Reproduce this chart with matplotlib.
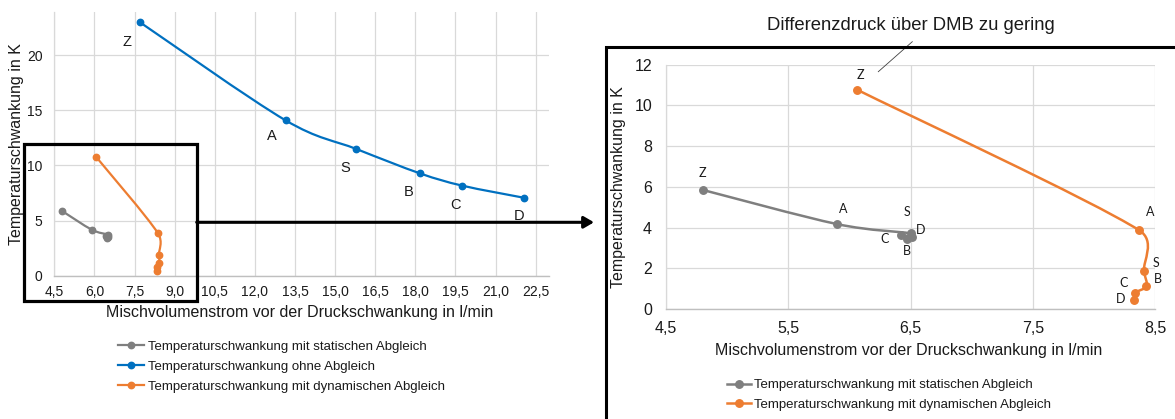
import matplotlib
matplotlib.use("Agg")
import matplotlib.pyplot as plt
from matplotlib.path import Path
from matplotlib.patches import PathPatch, Rectangle, FancyArrowPatch
from matplotlib.lines import Line2D
from matplotlib.ticker import FixedLocator, FuncFormatter
import numpy as np

# ---------------- data ----------------
point_labels = ['Z', 'A', 'S', 'B', 'C', 'D']

static_x = [4.80, 5.90, 6.50, 6.47, 6.42, 6.51]
static_y = [5.85, 4.17, 3.71, 3.45, 3.63, 3.55]

ohne_x = [7.69, 13.15, 15.80, 18.18, 19.76, 22.05]
ohne_y = [22.99, 14.08, 11.48, 9.27, 8.16, 7.07]

dyn_x = [6.06, 8.37, 8.41, 8.43, 8.34, 8.33]
dyn_y = [10.78, 3.87, 1.88, 1.13, 0.80, 0.44]

series_names = ['Temperaturschwankung mit statischen Abgleich',
                'Temperaturschwankung ohne Abgleich',
                'Temperaturschwankung mit dynamischen Abgleich']

left_xticks = [4.5, 6.0, 7.5, 9.0, 10.5, 12.0, 13.5, 15.0, 16.5, 18.0, 19.5, 21.0, 22.5]
left_yticks = [0, 5, 10, 15, 20]
right_xticks = [4.5, 5.5, 6.5, 7.5, 8.5]
right_yticks = [0, 2, 4, 6, 8, 10, 12]

annotation_text = 'Differenzdruck über DMB zu gering'
x_title = 'Mischvolumenstrom vor der Druckschwankung in l/min'
y_title = 'Temperaturschwankung in K'

# ---------------- style ----------------
C_GREY = '#7F7F7F'
C_BLUE = '#0070C0'
C_ORANGE = '#ED7D31'
GRID = '#D9D9D9'
AXIS = '#BFBFBF'
TXT = '#1a1a1a'
FONT = 'Liberation Sans'

W, H = 1175, 419
fig = plt.figure(figsize=(W / 100, H / 100), dpi=100)
fig.patch.set_facecolor('white')


def fx(px):
    return px / W


def fy(py):
    return 1 - py / H


def fmt_1(v, pos=None):
    return ('%.1f' % v).replace('.', ',')


def fmt_0(v, pos=None):
    return '%d' % round(v)


def smooth_line(ax, xs, ys, color, lw, zorder=3):
    """Excel-style smoothed line (bezier segments computed in display space)."""
    pts = ax.transData.transform(np.column_stack([xs, ys]))
    n = len(pts)
    verts = [pts[0]]
    codes = [Path.MOVETO]
    f = 1.0 / 6.0
    for i in range(n - 1):
        p0 = pts[i - 1] if i > 0 else pts[i]
        p1 = pts[i]
        p2 = pts[i + 1]
        p3 = pts[i + 2] if i + 2 < n else pts[i + 1]
        d02 = np.hypot(*(p2 - p0))
        d12 = np.hypot(*(p2 - p1))
        d13 = np.hypot(*(p3 - p1))
        if d02 * f < d12 / 2 or d02 == 0:
            c1 = p1 + (p2 - p0) * f
        else:
            c1 = p1 + (p2 - p0) * (d12 / 2) / d02
        if d13 * f < d12 / 2 or d13 == 0:
            c2 = p2 - (p3 - p1) * f
        else:
            c2 = p2 - (p3 - p1) * (d12 / 2) / d13
        verts += [c1, c2, p2]
        codes += [Path.CURVE4, Path.CURVE4, Path.CURVE4]
    data_verts = ax.transData.inverted().transform(np.array(verts))
    patch = PathPatch(Path(data_verts, codes), facecolor='none', edgecolor=color,
                      lw=lw, zorder=zorder, capstyle='round', joinstyle='round')
    ax.add_patch(patch)


def style_axes(ax, xticks, yticks, xfmt, fs, xpad, ypad):
    ax.set_facecolor('white')
    ax.xaxis.set_major_locator(FixedLocator(xticks))
    ax.yaxis.set_major_locator(FixedLocator(yticks))
    ax.xaxis.set_major_formatter(FuncFormatter(xfmt))
    ax.yaxis.set_major_formatter(FuncFormatter(fmt_0))
    ax.grid(True, color=GRID, lw=0.9, zorder=0)
    ax.set_axisbelow(True)
    for s in ['top', 'right']:
        ax.spines[s].set_visible(False)
    ax.spines['left'].set_color(GRID)
    ax.spines['left'].set_linewidth(0.9)
    ax.spines['bottom'].set_color(AXIS)
    ax.spines['bottom'].set_linewidth(1.0)
    ax.tick_params(axis='both', length=0, labelsize=fs, labelcolor=TXT)
    ax.tick_params(axis='x', pad=xpad)
    ax.tick_params(axis='y', pad=ypad)
    for lab in ax.get_xticklabels() + ax.get_yticklabels():
        lab.set_fontfamily(FONT)


# ---------------- left chart ----------------
L_x0, L_x1, L_top, L_bot = 54.3, 549.0, 12.0, 275.7
axL = fig.add_axes([fx(L_x0), fy(L_bot), fx(L_x1 - L_x0), (L_bot - L_top) / H])
axL.set_xlim(4.5, 23.0)
axL.set_ylim(0, 23.9)
style_axes(axL, left_xticks, left_yticks, fmt_1, 10, 6.5, 8.5)

smooth_line(axL, static_x, static_y, C_GREY, 1.6)
smooth_line(axL, ohne_x, ohne_y, C_BLUE, 1.6)
smooth_line(axL, dyn_x, dyn_y, C_ORANGE, 1.6)
axL.plot(static_x, static_y, ls='none', marker='o', ms=4.6, color=C_GREY, zorder=4)
axL.plot(ohne_x, ohne_y, ls='none', marker='o', ms=4.6, color=C_BLUE, zorder=4)
axL.plot(dyn_x, dyn_y, ls='none', marker='o', ms=4.6, color=C_ORANGE, zorder=4)

blue_offsets = [(-13, -20), (-14, -16), (-11, -19), (-11, -19), (-7, -19), (-5, -18)]
for lab, x, y, (dx, dy) in zip(point_labels, ohne_x, ohne_y, blue_offsets):
    axL.annotate(lab, (x, y), xytext=(dx, dy), textcoords='offset pixels',
                 ha='center', va='center', fontsize=10.5, fontfamily=FONT, color=TXT)

axL.set_xlabel(x_title, fontsize=11.5, fontfamily=FONT, color=TXT)
axL.xaxis.set_label_coords((300 - L_x0) / (L_x1 - L_x0), (L_bot - 313) / (L_bot - L_top))
axL.xaxis.label.set_va('center')
axL.set_ylabel(y_title, fontsize=11.5, fontfamily=FONT, color=TXT)
axL.yaxis.set_label_coords((16.5 - L_x0) / (L_x1 - L_x0), (L_bot - 144) / (L_bot - L_top))
axL.yaxis.label.set_va('center')

leg_handles_L = [Line2D([], [], color=c, lw=1.6, marker='o', ms=4.6) for c in (C_GREY, C_BLUE, C_ORANGE)]
fig.legend(leg_handles_L, series_names, loc='upper left',
           bbox_to_anchor=(fx(118), fy(340.5)), frameon=False, borderpad=0, borderaxespad=0,
           handlelength=2.0, handletextpad=0.25, labelspacing=0.59,
           prop={'family': FONT, 'size': 9.5}, labelcolor=TXT)

# highlight box on left chart
fig.add_artist(Rectangle((fx(24), fy(300.7)), fx(196.7 - 24), (300.7 - 144) / H,
                         transform=fig.transFigure, fill=False, ec='black', lw=2.3, zorder=10))
# arrow
fig.add_artist(FancyArrowPatch((fx(196.7), fy(222.3)), (fx(594), fy(222.3)),
                               transform=fig.transFigure, arrowstyle='-|>,head_length=0.6,head_width=0.35',
                               mutation_scale=10, color='black', lw=2.2, shrinkA=0, shrinkB=0, zorder=10))

# ---------------- right chart ----------------
R_x0, R_x1, R_top, R_bot = 666.0, 1155.0, 64.7, 309.0
axR = fig.add_axes([fx(R_x0), fy(R_bot), fx(R_x1 - R_x0), (R_bot - R_top) / H])
axR.set_xlim(4.5, 8.5)
axR.set_ylim(0, 12)
style_axes(axR, right_xticks, right_yticks, fmt_1, 11.5, 8.5, 10)

smooth_line(axR, static_x, static_y, C_GREY, 1.8)
smooth_line(axR, dyn_x, dyn_y, C_ORANGE, 1.8)
axR.plot(static_x, static_y, ls='none', marker='o', ms=5.4, color=C_GREY, zorder=4)
axR.plot(dyn_x, dyn_y, ls='none', marker='o', ms=5.4, color=C_ORANGE, zorder=4)

grey_offsets = [(0, 17), (6, 15), (-4, 21), (0, -12), (-16, -4), (9, 7)]
orange_offsets = [(4, 15), (11, 18), (12, 8), (11, 7), (-12, 10), (-14, 1)]
for xs, ys, offs in ((static_x, static_y, grey_offsets), (dyn_x, dyn_y, orange_offsets)):
    for lab, x, y, (dx, dy) in zip(point_labels, xs, ys, offs):
        axR.annotate(lab, (x, y), xytext=(dx, dy), textcoords='offset pixels',
                     ha='center', va='center', fontsize=9, fontfamily='Lato', color=TXT)

axR.set_xlabel(x_title, fontsize=11.5, fontfamily=FONT, color=TXT)
axR.xaxis.set_label_coords((909 - R_x0) / (R_x1 - R_x0), (R_bot - 350) / (R_bot - R_top))
axR.xaxis.label.set_va('center')
axR.set_ylabel(y_title, fontsize=11.5, fontfamily=FONT, color=TXT)
axR.yaxis.set_label_coords((618 - R_x0) / (R_x1 - R_x0), (R_bot - 187) / (R_bot - R_top))
axR.yaxis.label.set_va('center')

leg_handles_R = [Line2D([], [], color=c, lw=1.8, marker='o', ms=5.4) for c in (C_GREY, C_ORANGE)]
fig.legend(leg_handles_R, [series_names[0], series_names[2]], loc='upper left',
           bbox_to_anchor=(fx(727), fy(379)), frameon=False, borderpad=0, borderaxespad=0,
           handlelength=1.8, handletextpad=0.25, labelspacing=0.56,
           prop={'family': FONT, 'size': 9.5}, labelcolor=TXT)

# frame around right chart (left and top edges visible, rest cropped)
fig.add_artist(Line2D([fx(606), fx(606), fx(W + 5)], [fy(H + 5), fy(47.3), fy(47.3)],
                      transform=fig.transFigure, color='black', lw=2.2, zorder=10,
                      solid_joinstyle='miter'))

# annotation with leader line
fig.text(fx(910.5), fy(25), annotation_text, ha='center', va='center',
         fontsize=13.3, fontfamily=FONT, color=TXT)
fig.add_artist(Line2D([fx(912.3), fx(878.3)], [fy(41.7), fy(71.7)],
                      transform=fig.transFigure, color='#404040', lw=0.6))

fig.savefig('out.png', dpi=100, facecolor='white')
